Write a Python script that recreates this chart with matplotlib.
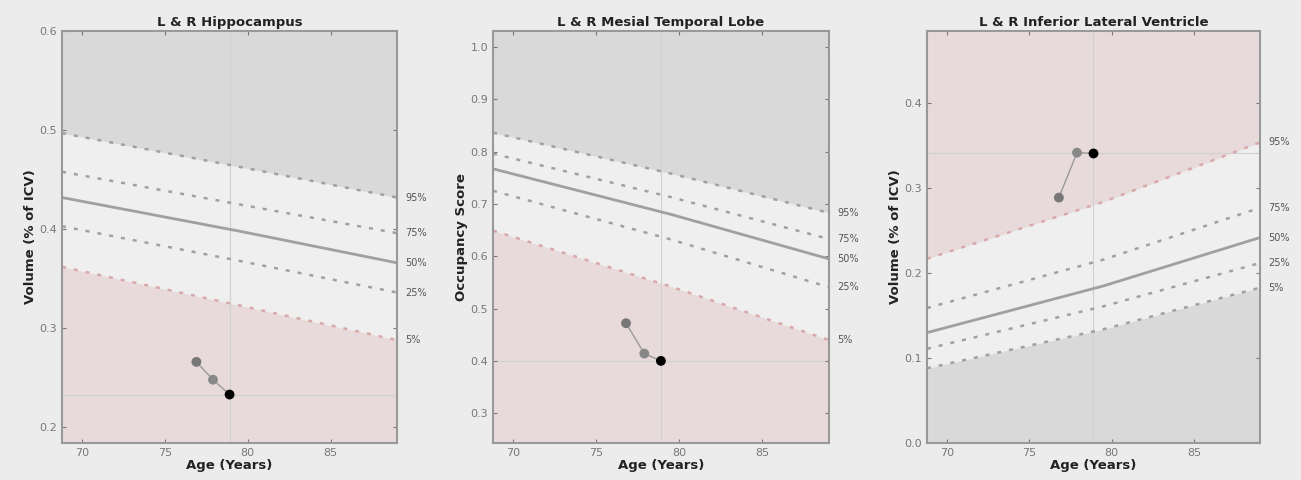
import matplotlib.pyplot as plt

# ages at which the normative percentile curves were read
curve_ages = [68.8, 79.5, 89.0]
pct_labels = ["95%", "75%", "50%", "25%", "5%"]

# L & R Hippocampus
hippo_p95 = [0.497, 0.463, 0.432]
hippo_p75 = [0.458, 0.425, 0.396]
hippo_p50 = [0.432, 0.398, 0.366]
hippo_p25 = [0.403, 0.368, 0.336]
hippo_p05 = [0.362, 0.323, 0.288]
hippo_ages = [76.9, 77.9, 78.9]
hippo_vals = [0.266, 0.248, 0.233]

# L & R Mesial Temporal Lobe
mtl_p95 = [0.836, 0.758, 0.683]
mtl_p75 = [0.796, 0.713, 0.633]
mtl_p50 = [0.767, 0.680, 0.595]
mtl_p25 = [0.725, 0.632, 0.541]
mtl_p05 = [0.649, 0.542, 0.440]
mtl_ages = [76.8, 77.9, 78.9]
mtl_vals = [0.472, 0.414, 0.400]

# L & R Inferior Lateral Ventricle
ilv_p95 = [0.217, 0.284, 0.354]
ilv_p75 = [0.159, 0.216, 0.277]
ilv_p50 = [0.130, 0.185, 0.242]
ilv_p25 = [0.111, 0.161, 0.212]
ilv_p05 = [0.088, 0.134, 0.183]
ilv_ages = [76.8, 77.9, 78.9]
ilv_vals = [0.289, 0.342, 0.341]

panels = [
    dict(title="L & R Hippocampus", ylabel="Volume (% of ICV)",
         curves=[hippo_p95, hippo_p75, hippo_p50, hippo_p25, hippo_p05],
         ages=hippo_ages, vals=hippo_vals, ylim=(0.184, 0.6),
         yticks=[0.2, 0.3, 0.4, 0.5, 0.6], high_is_bad=False),
    dict(title="L & R Mesial Temporal Lobe", ylabel="Occupancy Score",
         curves=[mtl_p95, mtl_p75, mtl_p50, mtl_p25, mtl_p05],
         ages=mtl_ages, vals=mtl_vals, ylim=(0.243, 1.03),
         yticks=[0.3, 0.4, 0.5, 0.6, 0.7, 0.8, 0.9, 1.0], high_is_bad=False),
    dict(title="L & R Inferior Lateral Ventricle", ylabel="Volume (% of ICV)",
         curves=[ilv_p95, ilv_p75, ilv_p50, ilv_p25, ilv_p05],
         ages=ilv_ages, vals=ilv_vals, ylim=(0.0, 0.485),
         yticks=[0.0, 0.1, 0.2, 0.3, 0.4], high_is_bad=True),
]

grey_fill = "#d9d9d9"
pink_fill = "#e8dada"
mid_fill = "#efefef"
line_col = "#a0a0a0"
pink_line = "#d9a8a8"

fig = plt.figure(figsize=(13.01, 4.8), dpi=100, facecolor="#ececec")
lefts = [0.0477, 0.379, 0.7125]
widths = [0.2575, 0.258, 0.256]

for p, left, w in zip(panels, lefts, widths):
    ax = fig.add_axes([left, 0.077, w, 0.858])
    ax.set_facecolor(mid_fill)
    lo, hi = p["ylim"]
    p95, p75, p50, p25, p05 = p["curves"]
    top_col = pink_fill if p["high_is_bad"] else grey_fill
    bot_col = grey_fill if p["high_is_bad"] else pink_fill
    ax.fill_between(curve_ages, p95, hi, color=top_col, lw=0)
    ax.fill_between(curve_ages, lo, p05, color=bot_col, lw=0)

    for name, c in zip(pct_labels, p["curves"]):
        if name == "50%":
            ax.plot(curve_ages, c, color=line_col, lw=2)
        else:
            bad = (name == "95%" and p["high_is_bad"]) or (name == "5%" and not p["high_is_bad"])
            ax.plot(curve_ages, c, color=pink_line if bad else line_col, lw=1.8,
                    linestyle=(0, (1.6, 3.2)))
        ax.text(89.5, c[-1], name, fontsize=7, color="#555555", va="center",
                clip_on=False)

    # crosshair at latest visit
    ax.axvline(p["ages"][-1], color="#d0d0d0", lw=0.8, zorder=1)
    ax.axhline(p["vals"][-1], color="#d0d0d0", lw=0.8, zorder=1)
    ax.plot(p["ages"], p["vals"], color="#999999", lw=1, zorder=3)
    ax.scatter(p["ages"], p["vals"], s=50, c=["#777777", "#888888", "#000000"],
               zorder=4, edgecolors="none")

    ax.set_xlim(68.8, 89.0)
    ax.set_ylim(lo, hi)
    ax.set_xticks([70, 75, 80, 85])
    ax.set_yticks(p["yticks"])
    ax.tick_params(colors="#777777", labelsize=8, length=3, direction="in",
                   top=True, right=True)
    for s in ax.spines.values():
        s.set_color("#999999")
        s.set_linewidth(1.5)
    ax.set_title(p["title"], fontsize=9.5, fontweight="bold", color="#222222", pad=4)
    ax.set_ylabel(p["ylabel"], fontsize=9.5, fontweight="bold", color="#222222", labelpad=2)
    ax.set_xlabel("Age (Years)", fontsize=9.5, fontweight="bold", color="#222222", labelpad=1)

fig.savefig("out.png", dpi=100, facecolor=fig.get_facecolor())
